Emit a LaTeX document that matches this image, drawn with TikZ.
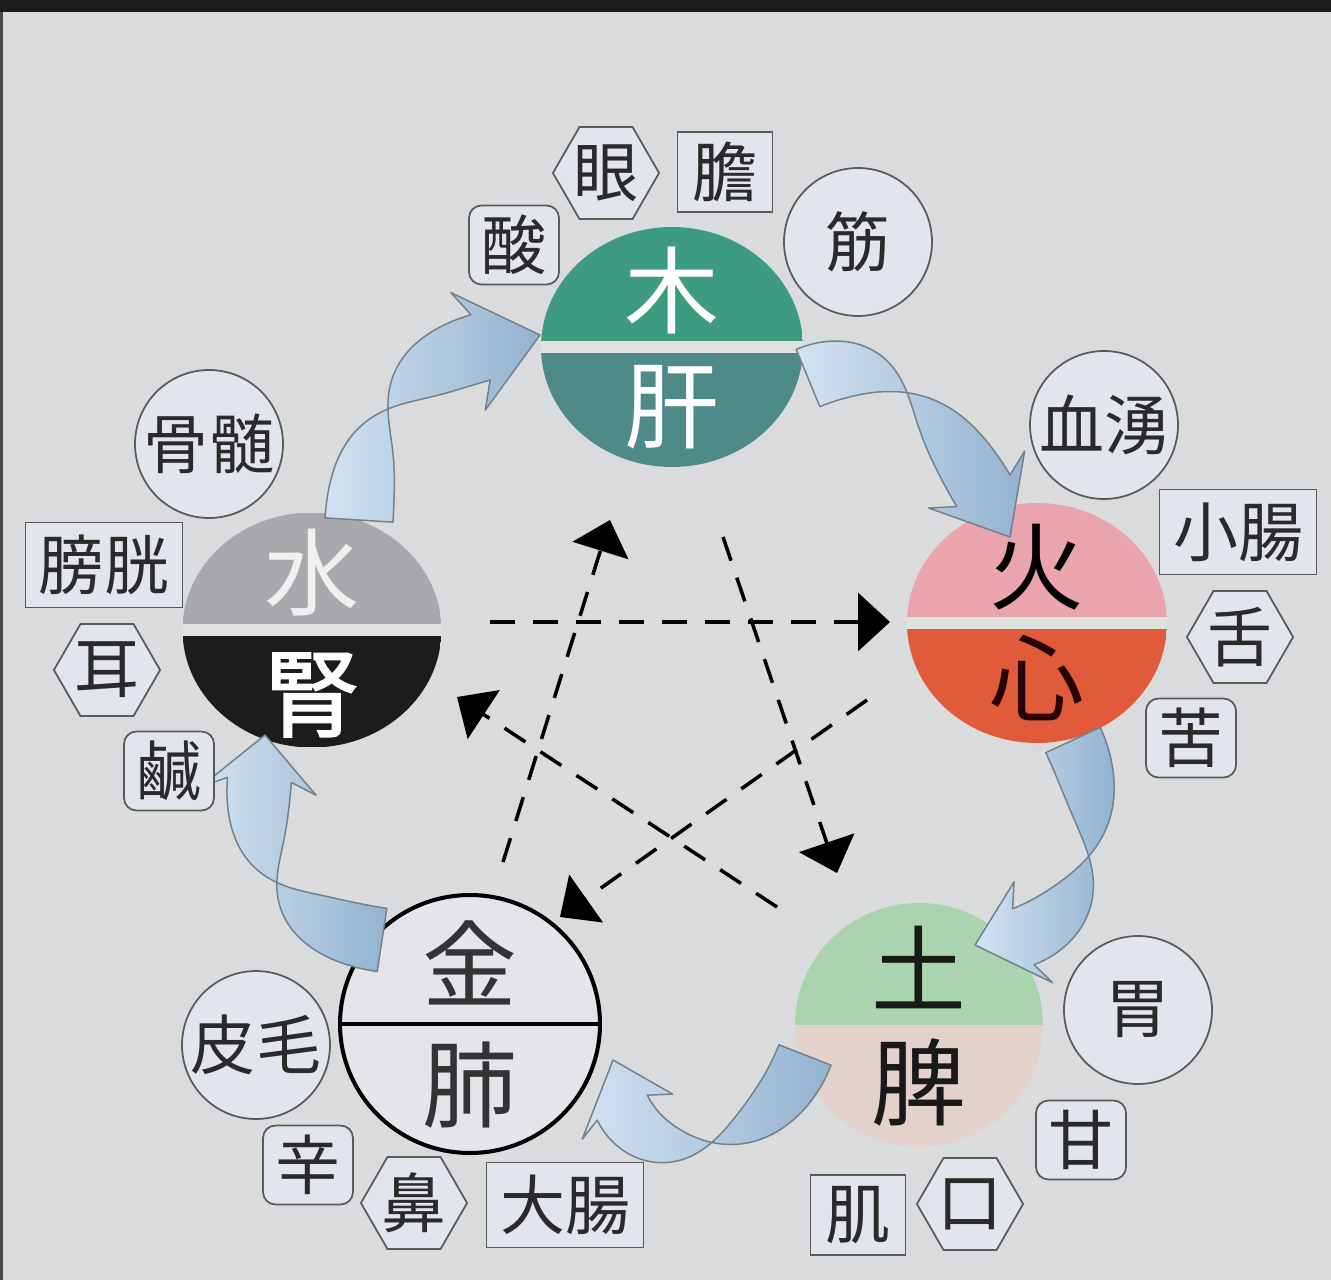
\documentclass[tikz,border=0pt]{standalone}
\usepackage{fontspec}
\newfontfamily\jp{Noto Sans CJK JP}
\newfontfamily\jpbold[FakeBold=2]{Noto Sans CJK JP}
\usetikzlibrary{shapes.geometric,arrows.meta,positioning}

\definecolor{paper}{HTML}{DADBDC}
\definecolor{topbar}{HTML}{1C1C1F}
\definecolor{gapc}{HTML}{E0E2E1}
\definecolor{labfill}{HTML}{E3E5EC}
\definecolor{labedge}{HTML}{5A5A5A}
\definecolor{labtext}{HTML}{2A2A2A}
\definecolor{woodtop}{HTML}{3D9C80}
\definecolor{woodbot}{HTML}{4D8A88}
\definecolor{firetop}{HTML}{E9A4AD}
\definecolor{firebot}{HTML}{E15B3B}
\definecolor{earthtop}{HTML}{A9D4AE}
\definecolor{earthbot}{HTML}{E3D2CC}
\definecolor{metalfill}{HTML}{E3E5EA}
\definecolor{watertop}{HTML}{A8A9AC}
\definecolor{waterbot}{HTML}{1C1C1C}
\definecolor{ribhi}{HTML}{D2E2F1}
\definecolor{ribdark}{HTML}{93B3CF}
\definecolor{ribedge}{HTML}{74818C}

% twisted ribbon arrow: x0 y0 x1 y1 x2 y2 x3 y3 halfwidth (pixel units)
\newcommand{\twistarrow}[9]{%
  \pgfmathsetmacro{\hdang}{atan2(bd(#2,#4,#6,#8,0.84),bd(#1,#3,#5,#7,0.84))}%
  \pgfmathsetmacro{\hdx}{bz(#1,#3,#5,#7,0.8)}%
  \pgfmathsetmacro{\hdy}{bz(#2,#4,#6,#8,0.8)}%
  \draw[ribbon]
    plot[domain=0:0.84,samples=31,smooth,variable=\s]
      ({bz(#1,#3,#5,#7,\s)-#9*tw(\s)*sin(atan2(bd(#2,#4,#6,#8,\s),bd(#1,#3,#5,#7,\s)))},
       {bz(#2,#4,#6,#8,\s)+#9*tw(\s)*cos(atan2(bd(#2,#4,#6,#8,\s),bd(#1,#3,#5,#7,\s)))})
    -- ({\hdx+1.8*#9*sin(\hdang)},{\hdy-1.8*#9*cos(\hdang)})
    -- (#7,#8)
    -- ({\hdx-1.8*#9*sin(\hdang)},{\hdy+1.8*#9*cos(\hdang)})
    -- plot[domain=0.84:0,samples=31,smooth,variable=\s]
      ({bz(#1,#3,#5,#7,\s)+#9*tw(\s)*sin(atan2(bd(#2,#4,#6,#8,\s),bd(#1,#3,#5,#7,\s)))},
       {bz(#2,#4,#6,#8,\s)-#9*tw(\s)*cos(atan2(bd(#2,#4,#6,#8,\s),bd(#1,#3,#5,#7,\s)))})
    -- cycle;
}

\begin{document}
\begin{tikzpicture}[x=0.02cm, y=-0.02cm,
    declare function={
      bz(\pa,\pb,\pc,\pd,\ps)=(1-\ps)*(1-\ps)*(1-\ps)*\pa+3*(1-\ps)*(1-\ps)*\ps*\pb+3*(1-\ps)*\ps*\ps*\pc+\ps*\ps*\ps*\pd;
      bd(\pa,\pb,\pc,\pd,\ps)=(1-\ps)*(1-\ps)*(\pb-\pa)+2*(1-\ps)*\ps*(\pc-\pb)+\ps*\ps*(\pd-\pc);
      tw(\ps)=1.3*cos(180*\ps/0.84)/sqrt(1+0.69*cos(180*\ps/0.84)*cos(180*\ps/0.84));
    },
    lab/.style={draw=labedge, fill=labfill, line width=1pt, text=labtext, inner sep=0pt,
        font=\jp\fontsize{37}{37}\selectfont},
    labcirc/.style={lab, circle, minimum size=2.96cm},
    labbox/.style={lab, rectangle, minimum width=1.9cm, minimum height=1.6cm},
    labwide/.style={lab, rectangle, minimum width=3.14cm, minimum height=1.7cm},
    labround/.style={lab, rectangle, rounded corners=0.25cm, minimum width=1.8cm, minimum height=1.58cm},
    labhex/.style={lab, regular polygon, regular polygon sides=6, minimum size=2.1cm},
    organ/.style={ellipse, inner sep=0pt},
    split/.style n args={3}{path picture={
        \fill[#1] (path picture bounding box.north west) rectangle (path picture bounding box.east);
        \fill[#2] (path picture bounding box.west) rectangle (path picture bounding box.south east);
        \fill[gapc] ([yshift=#3]path picture bounding box.west) rectangle ([yshift=-#3]path picture bounding box.east);}},
    big/.style={inner sep=0pt, font=\jp\fontsize{54}{54}\selectfont},
    dashstar/.style={line width=2pt, dash pattern=on 0.5cm off 0.36cm,
        -{Triangle[length=0.64cm,width=1.16cm]}},
    ribbon/.style={draw=ribedge, left color=ribhi, right color=ribdark, line width=0.85pt, line join=round}]

    \useasboundingbox (0,0) rectangle (1331,1280);
    \fill[paper] (0,0) rectangle (1331,1280);
    \fill[topbar] (0,0) rectangle (1331,12);
    \fill[topbar!80] (0,12) rectangle (3,1280);

    % restraining cycle
    \coordinate (water-out) at (490,622);
    \coordinate (fire-in) at (890,622);
    \coordinate (metal-out) at (503,862);
    \coordinate (wood-in) at (610,520);
    \coordinate (wood-out) at (723,537);
    \coordinate (earth-in) at (837,873);
    \coordinate (fire-out) at (867,700);
    \coordinate (metal-in) at (560,917);
    \coordinate (earth-out) at (777,907);
    \coordinate (water-in) at (457,697);
    \foreach \a/\b in {water-out/fire-in, metal-out/wood-in, wood-out/earth-in,
                       fire-out/metal-in, earth-out/water-in}{
        \draw[dashstar] (\a) -- (\b);
    }

    % the five organs
    \node[organ, minimum width=5.24cm, minimum height=4.8cm, split={woodtop}{woodbot}{0.12cm}] (wood) at (672,347) {};
    \node[big, text=white] (woodU) at ([yshift=1.14cm]wood.center) {木};
    \node[big, text=white] (woodL) at ([yshift=-1.2cm]wood.center) {肝};

    \node[organ, minimum width=5.2cm, minimum height=4.8cm, split={firetop}{firebot}{0.12cm}] (fire) at (1037,623) {};
    \node[big, text=black] (fireU) at ([yshift=1.12cm]fire.center) {火};
    \node[big, text=black!85!red] (fireL) at ([yshift=-1.1cm]fire.center) {心};

    \node[organ, minimum width=4.96cm, minimum height=4.88cm, split={earthtop}{earthbot}{0cm}] (earth) at (919,1025) {};
    \node[big, text=black!90] (earthU) at ([yshift=1.16cm]earth.center) {土};
    \node[big, text=black!90] (earthL) at ([yshift=-1.14cm]earth.center) {脾};

    \node[organ, minimum width=5.2cm, minimum height=5.16cm, fill=metalfill, draw=black, line width=2.3pt] (metal) at (470,1024) {};
    \draw[line width=2.3pt] (metal.west) -- (metal.east);
    \node[big, text=black!80] (metalU) at ([yshift=1.22cm]metal.center) {金};
    \node[big, text=black!80] (metalL) at ([yshift=-1.22cm]metal.center) {肺};

    \node[organ, minimum width=5.18cm, minimum height=4.7cm, split={watertop}{waterbot}{0.12cm}] (water) at (312,630) {};
    \node[big, text=white!94!black] (waterU) at ([yshift=1.14cm]water.center) {水};
    \node[big, text=white, font=\jpbold\fontsize{54}{54}\selectfont] (waterL) at ([yshift=-1.3cm]water.center) {腎};

    % generating cycle
    \twistarrow{359}{520}{366}{410}{400}{355}{540}{335}{34}
    \twistarrow{808}{378}{900}{340}{955}{440}{1010}{537}{31}
    \twistarrow{1073}{740}{1115}{830}{1090}{945}{975}{945}{30}
    \twistarrow{805}{1055}{760}{1170}{610}{1180}{613}{1060}{28}
    \twistarrow{382}{940}{250}{920}{250}{830}{265}{735}{32}

    % correspondences
    \node[labround] (sour) at (514,245) {酸};
    \node[labhex] (eye) at (606,173) {眼};
    \node[labbox] (gall) at (725,172) {膽};
    \node[labcirc] (sinew) at (858,242) {筋};

    \node[labcirc] (blood) at (1104,425) {血湧};
    \node[labwide] (smallint) at (1238,532) {小腸};
    \node[labhex] (tongue) at (1240,637) {舌};
    \node[labround] (bitter) at (1191,738) {苦};

    \node[labcirc] (stomach) at (1138,1010) {胃};
    \node[labround] (sweet) at (1081,1140) {甘};
    \node[labhex] (mouth) at (970,1204) {口};
    \node[labbox] (flesh) at (858,1215) {肌};

    \node[labcirc] (skin) at (256,1045) {皮毛};
    \node[labround] (pungent) at (308,1165) {辛};
    \node[labhex] (nose) at (414,1203) {鼻};
    \node[labwide] (largeint) at (565,1205) {大腸};

    \node[labcirc] (marrow) at (209,444) {骨髄};
    \node[labwide] (bladder) at (104,565) {膀胱};
    \node[labhex] (ear) at (107,670) {耳};
    \node[labround] (salty) at (169,771) {鹹};
\end{tikzpicture}
\end{document}
